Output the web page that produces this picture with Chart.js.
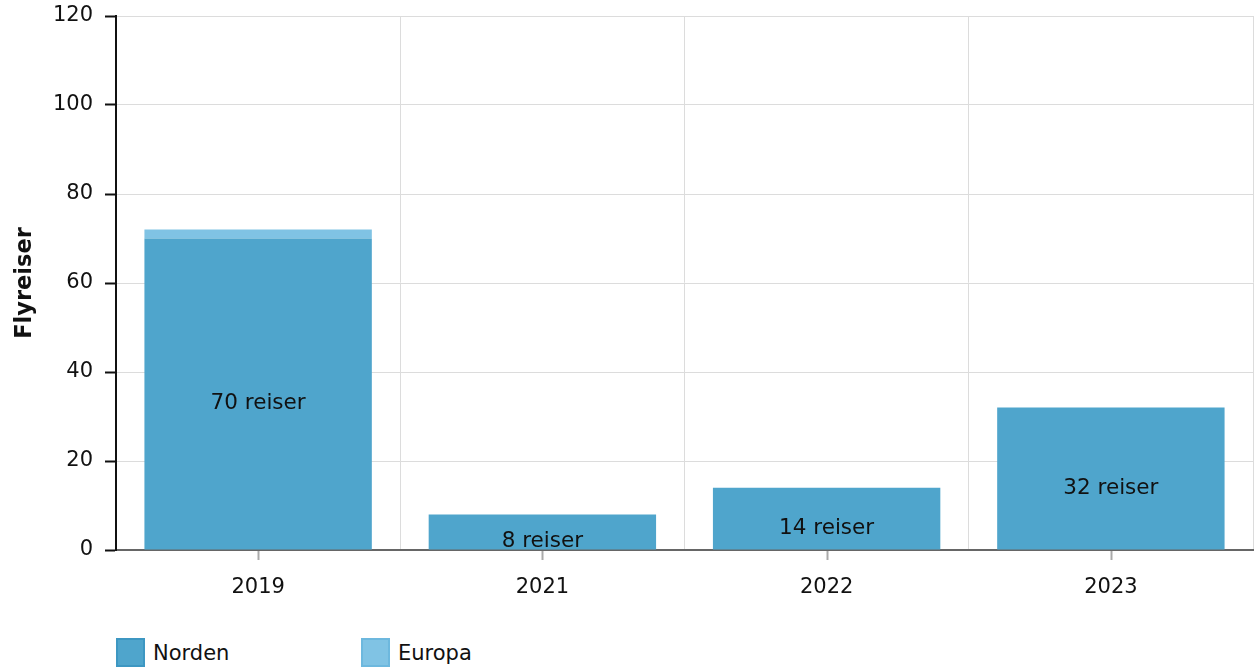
<!DOCTYPE html>
<html>
<head>
<meta charset="utf-8">
<script src="https://cdn.jsdelivr.net/npm/chart.js@4.4.0/dist/chart.umd.min.js"></script>
<style>
  body { margin: 0; background: #fff; font-family: "DejaVu Sans", sans-serif; }
  #wrap { position: relative; width: 1258px; height: 667px; }
  #legend { position: absolute; left: 116px; top: 638px; font-size: 21px; color: #111; }
  .item { position: absolute; top: 0; white-space: nowrap; }
  .box { position: absolute; top: 0; width: 29px; height: 29px; border: 2px solid; box-sizing: border-box; }
  .lbl { position: absolute; left: 37px; top: 3px; }
</style>
</head>
<body>
<div id="wrap">
  <canvas id="myChart" width="1258" height="620"></canvas>
  <div id="legend"></div>
</div>
<script>
'use strict';
// verdier lest av bildet
var years = ['2019', '2021', '2022', '2023'];
var norden = [70, 8, 14, 32];
var europa = [2, 0, 0, 0];
var yTicks = [0, 20, 40, 60, 80, 100, 120];

var FONT = '"DejaVu Sans", sans-serif';
var colNorden = '#4fa5cc';
var colEuropa = '#80c3e4';

// tekst "NN reiser" midt i hver Norden-søyle
var barLabels = {
  id: 'barLabels',
  afterDatasetsDraw: function(chart) {
    var ctx = chart.ctx;
    var meta = chart.getDatasetMeta(0);
    ctx.save();
    ctx.font = '21.5px ' + FONT;
    ctx.fillStyle = '#111';
    ctx.textAlign = 'center';
    ctx.textBaseline = 'top';
    meta.data.forEach(function(bar, i) {
      var mid = (bar.y + bar.base) / 2;
      ctx.fillText(norden[i] + ' reiser', bar.x, mid - 1);
    });
    ctx.restore();
  }
};

// tick-merker under hver kategori
var xTickMarks = {
  id: 'xTickMarks',
  afterDraw: function(chart) {
    var ctx = chart.ctx;
    var sx = chart.scales.x;
    ctx.save();
    ctx.strokeStyle = '#aaa';
    ctx.lineWidth = 2;
    years.forEach(function(y, i) {
      var px = Math.round(sx.getPixelForTick(i)) + 0.5;
      ctx.beginPath();
      ctx.moveTo(px, sx.top + 1);
      ctx.lineTo(px, sx.top + 10);
      ctx.stroke();
    });
    ctx.restore();
  }
};

var ctx = document.getElementById('myChart').getContext('2d');
var myChart = new Chart(ctx, {
  type: 'bar',
  data: {
    labels: years,
    datasets: [
      { label: 'Norden', data: norden, backgroundColor: colNorden, borderWidth: 0,
        barPercentage: 0.8, categoryPercentage: 1.0 },
      { label: 'Europa', data: europa, backgroundColor: colEuropa, borderWidth: 0,
        barPercentage: 0.8, categoryPercentage: 1.0 }
    ]
  },
  options: {
    responsive: false,
    animation: false,
    layout: { padding: { top: 16, right: 5, left: 0, bottom: 0 } },
    plugins: {
      legend: { display: false },
      tooltip: { enabled: false }
    },
    scales: {
      x: {
        stacked: true,
        grid: { color: '#dcdcdc', lineWidth: 1, drawTicks: false, offset: true },
        border: { color: '#666', width: 2 },
        ticks: { color: '#111', font: { family: FONT, size: 21 }, padding: 25 },
        afterFit: function(s) { s.height = 70; s.paddingLeft = 0; s.paddingRight = 0; }
      },
      y: {
        stacked: true,
        min: 0,
        max: 120,
        afterBuildTicks: function(s) { s.ticks = yTicks.map(function(v) { return { value: v }; }); },
        grid: { color: '#dcdcdc', lineWidth: 1, tickColor: '#111', tickLength: 11, tickWidth: 2 },
        border: { color: '#111', width: 2 },
        ticks: { color: '#111', font: { family: FONT, size: 21 }, padding: 12 },
        title: {
          display: true,
          text: 'Flyreiser',
          color: '#111',
          font: { family: FONT, size: 22.5, weight: 'bold' },
          padding: { top: 12, bottom: 0 }
        },
        afterFit: function(s) { s.width = 116; s.paddingTop = 0; s.paddingBottom = 0; }
      }
    }
  },
  plugins: [barLabels, xTickMarks]
});

// legend under grafen
var legendItems = [
  { text: 'Norden', fill: colNorden, border: '#3d97c2', left: 0 },
  { text: 'Europa', fill: colEuropa, border: '#6db8de', left: 245 }
];
var lg = document.getElementById('legend');
legendItems.forEach(function(it) {
  var d = document.createElement('div');
  d.className = 'item';
  d.style.left = it.left + 'px';
  d.innerHTML = '<span class="box" style="background:' + it.fill + ';border-color:' + it.border + '"></span>' +
    '<span class="lbl">' + it.text + '</span>';
  lg.appendChild(d);
});
</script>
</body>
</html>
